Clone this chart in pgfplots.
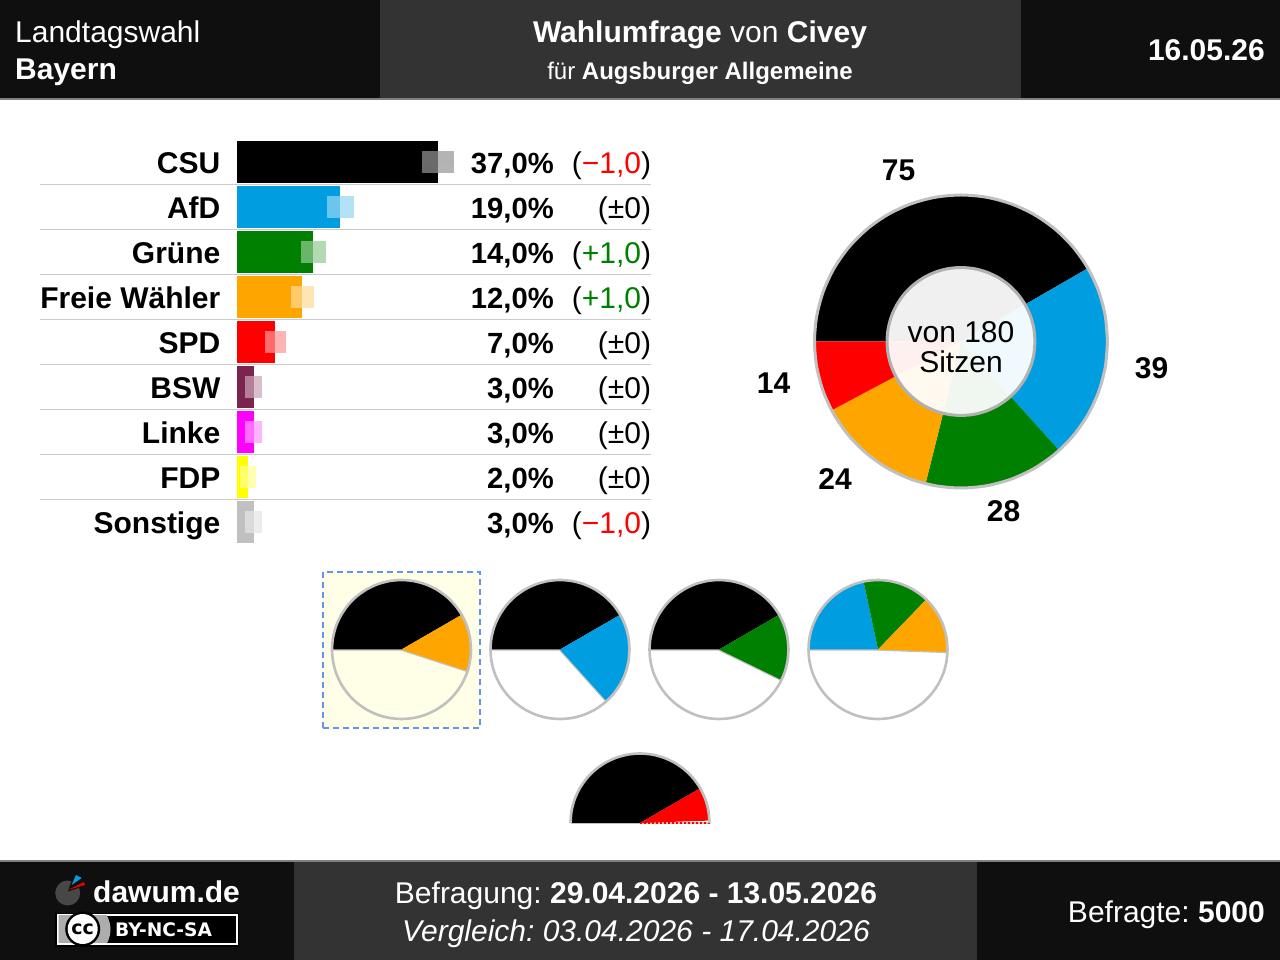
\documentclass[border=0pt]{standalone}
\usepackage{fontspec}
\usepackage{pgfplots}
\usepackage{pgfplotstable}
\usepgfplotslibrary{polar}
\pgfplotsset{compat=1.18}
\setmainfont{Liberation Sans}
\newfontfamily\badgefont{DejaVu Sans}
\frenchspacing

\definecolor{csu}{HTML}{000000}
\definecolor{afd}{HTML}{009EE0}
\definecolor{gruene}{HTML}{008000}
\definecolor{fw}{HTML}{FFA500}
\definecolor{spd}{HTML}{FF0000}
\definecolor{bsw}{HTML}{7B2450}
\definecolor{linke}{HTML}{FF00FF}
\definecolor{fdp}{HTML}{FFFF00}
\definecolor{sonst}{HTML}{C0C0C0}
\definecolor{darkbar}{HTML}{0F0F0F}
\definecolor{midbar}{HTML}{333333}
\definecolor{rulegrey}{HTML}{808080}
\definecolor{sepgrey}{HTML}{CCCCCC}
\definecolor{piegrey}{HTML}{C0C0C0}
\definecolor{plus}{HTML}{008000}
\definecolor{cornflower}{HTML}{6495ED}

\newcommand{\fs}[1]{\fontsize{#1pt}{#1pt}\selectfont}

% unit circle shared by all the pies, r outer edge, s hole of the donut
\pgfplotstableread{
a r s
0 1 0.505
10 1 0.505
20 1 0.505
30 1 0.505
40 1 0.505
50 1 0.505
60 1 0.505
70 1 0.505
80 1 0.505
90 1 0.505
100 1 0.505
110 1 0.505
120 1 0.505
130 1 0.505
140 1 0.505
150 1 0.505
160 1 0.505
170 1 0.505
180 1 0.505
190 1 0.505
200 1 0.505
210 1 0.505
220 1 0.505
230 1 0.505
240 1 0.505
250 1 0.505
260 1 0.505
270 1 0.505
280 1 0.505
290 1 0.505
300 1 0.505
310 1 0.505
320 1 0.505
330 1 0.505
340 1 0.505
350 1 0.505
360 1 0.505
}\ring
\pgfplotstableread{
a r
180 1
170 1
160 1
150 1
140 1
130 1
120 1
110 1
100 1
90 1
80 1
70 1
60 1
50 1
40 1
30 1
20 1
10 1
0 1
}\halfring

\pgfplotsset{
  party/.style={fill=#1, draw=none,
    error bars/.cd, x dir=both, x explicit, error mark=none,
    error bar style={line width=21.5pt, color=#1!41!white, opacity=.71}},
  pie/.style={hide axis, scale only axis, width=#1, height=#1,
    xmin=0, xmax=360, ymin=0, ymax=1, clip=false, anchor=origin},
  wedge/.style={fill=#1, draw=none},
  outline/.style={draw=piegrey, line width=2.6pt, fill=none, smooth},
  cut/.style={draw=piegrey, line width=2.4pt, fill=none},
}

\begin{document}
\begin{tikzpicture}[x=1pt, y=1pt]
\useasboundingbox (0,0) rectangle (1280,960);
\fill[white] (0,0) rectangle (1280,960);

% header
\fill[darkbar] (0,862) rectangle (1280,960);
\fill[midbar] (380,862) rectangle (1021,960);
\fill[rulegrey] (0,860) rectangle (1280,862);
\node[white, anchor=base west, inner sep=0] at (15,917) {\fs{30}Landtagswahl};
\node[white, anchor=base west, inner sep=0] at (15,880) {\fs{30}\bfseries Bayern};
\node[white, anchor=base, inner sep=0] at (700,917) {\fs{30}\textbf{Wahlumfrage} von \textbf{Civey}};
\node[white, anchor=base, inner sep=0] at (700,880) {\fs{24}für \textbf{Augsburger Allgemeine}};
\node[white, anchor=base east, inner sep=0] at (1265,899.5) {\fs{30}\bfseries 16.05.26};

% footer
\fill[darkbar] (0,0) rectangle (1280,98);
\fill[midbar] (294,0) rectangle (977,98);
\fill[rulegrey] (0,98) rectangle (1280,100);
\node[white, anchor=base west, inner sep=0] at (93,57) {\fs{30}\bfseries dawum.de};
\node[white, anchor=base, inner sep=0] at (636,56) {\fs{30}Befragung: \textbf{29.04.2026 - 13.05.2026}};
\node[white, anchor=base, inner sep=0] at (636,18) {\fs{30}\itshape Vergleich: 03.04.2026 - 17.04.2026};
\node[white, anchor=base east, inner sep=0] at (1265,37) {\fs{30}Befragte: \textbf{5000}};

% logo
\fill[black!72!white] (67.7,67) circle (12.5);
\fill[darkbar] (68,68.5) -- (75,90) -- (90,76) -- cycle;
\fill[afd] (71.7,75) -- (76,85) -- (81.7,82) -- cycle;
\fill[red!90!black] (68,70) -- (84,78) -- (85,75) -- cycle;

% cc badge
\fill[black] (55,13) rectangle (239,47);
\draw[white, line width=2pt] (57.5,16) rectangle (236.5,45);
\begin{scope}
\clip (58.5,17) rectangle (235.5,44);
\fill[black!32!white] (58.5,17) rectangle (105,44);
\fill[black!32!white] (82,30.5) circle (28.5);
\end{scope}
\fill[black] (82.7,31) circle (17.5);
\fill[white] (82.7,31) circle (15);
\node[black, inner sep=0] at (82.7,31) {\fs{19}\badgefont\bfseries cc};
\node[white, anchor=base west, inner sep=0] at (115,23.3) {\fs{18.6}\badgefont\bfseries BY-NC-SA};

% bars
\begin{axis}[
  at={(237.3pt,415.5pt)}, anchor=south west,
  scale only axis, width=414pt, height=405pt,
  xbar, bar width=42pt, bar shift=0pt,
  xmin=0, xmax=76.24, ymin=-0.5, ymax=8.5, y dir=reverse,
  axis line style={draw=none}, xtick=\empty,
  ytick={0,1,2,3,4,5,6,7,8},
  yticklabels={CSU,AfD,Grüne,Freie Wähler,SPD,BSW,Linke,FDP,Sonstige},
  ytick style={draw=none},
  y tick label style={anchor=base east, inner sep=0, xshift=-12.5pt, yshift=-11.5pt, font=\fs{30}\bfseries},
  clip=false,
]
\addplot[party=csu] coordinates {(37,0) +- (2.95,0)};
\addplot[party=afd] coordinates {(19,1) +- (2.43,0)};
\addplot[party=gruene] coordinates {(14,2) +- (2.25,0)};
\addplot[party=fw] coordinates {(12,3) +- (2.1,0)};
\addplot[party=spd] coordinates {(7,4) +- (1.88,0)};
\addplot[party=bsw] coordinates {(3,5) +- (1.55,0)};
\addplot[party=linke] coordinates {(3,6) +- (1.55,0)};
\addplot[party=fdp] coordinates {(2,7) +- (1.47,0)};
\addplot[party=sonst] coordinates {(3,8) +- (1.55,0)};

\draw[sepgrey, line width=1pt] (axis cs:-36.33,0.5) -- (axis cs:76.24,0.5);
\draw[sepgrey, line width=1pt] (axis cs:-36.33,1.5) -- (axis cs:76.24,1.5);
\draw[sepgrey, line width=1pt] (axis cs:-36.33,2.5) -- (axis cs:76.24,2.5);
\draw[sepgrey, line width=1pt] (axis cs:-36.33,3.5) -- (axis cs:76.24,3.5);
\draw[sepgrey, line width=1pt] (axis cs:-36.33,4.5) -- (axis cs:76.24,4.5);
\draw[sepgrey, line width=1pt] (axis cs:-36.33,5.5) -- (axis cs:76.24,5.5);
\draw[sepgrey, line width=1pt] (axis cs:-36.33,6.5) -- (axis cs:76.24,6.5);
\draw[sepgrey, line width=1pt] (axis cs:-36.33,7.5) -- (axis cs:76.24,7.5);

\tikzset{val/.style={anchor=base east, inner sep=0, yshift=-11.5pt}}
\node[val] at (axis cs:58.32,0) {\fs{29.2}\bfseries 37,0\%};
\node[val] at (axis cs:58.32,1) {\fs{29.2}\bfseries 19,0\%};
\node[val] at (axis cs:58.32,2) {\fs{29.2}\bfseries 14,0\%};
\node[val] at (axis cs:58.32,3) {\fs{29.2}\bfseries 12,0\%};
\node[val] at (axis cs:58.32,4) {\fs{29.2}\bfseries 7,0\%};
\node[val] at (axis cs:58.32,5) {\fs{29.2}\bfseries 3,0\%};
\node[val] at (axis cs:58.32,6) {\fs{29.2}\bfseries 3,0\%};
\node[val] at (axis cs:58.32,7) {\fs{29.2}\bfseries 2,0\%};
\node[val] at (axis cs:58.32,8) {\fs{29.2}\bfseries 3,0\%};
\node[val] at (axis cs:76.24,0) {\fs{30}(\textcolor{red}{−1,0})};
\node[val] at (axis cs:76.24,1) {\fs{30}(±0)};
\node[val] at (axis cs:76.24,2) {\fs{30}(\textcolor{plus}{+1,0})};
\node[val] at (axis cs:76.24,3) {\fs{30}(\textcolor{plus}{+1,0})};
\node[val] at (axis cs:76.24,4) {\fs{30}(±0)};
\node[val] at (axis cs:76.24,5) {\fs{30}(±0)};
\node[val] at (axis cs:76.24,6) {\fs{30}(±0)};
\node[val] at (axis cs:76.24,7) {\fs{30}(±0)};
\node[val] at (axis cs:76.24,8) {\fs{30}(\textcolor{red}{−1,0})};
\end{axis}

% seats donut, 180 seats on the full circle, starting at the left
\begin{polaraxis}[pie=293pt, at={(961pt,618.5pt)}]
\addplot[wedge=csu] coordinates {(0,0)(180,1)(170,1)(160,1)(150,1)(140,1)(130,1)(120,1)(110,1)(100,1)(90,1)(80,1)(70,1)(60,1)(50,1)(40,1)(30,1)(0,0)};
\addplot[wedge=afd] coordinates {(0,0)(30,1)(20,1)(10,1)(0,1)(-10,1)(-20,1)(-30,1)(-40,1)(-48,1)(0,0)};
\addplot[wedge=gruene] coordinates {(0,0)(-48,1)(-60,1)(-70,1)(-80,1)(-90,1)(-104,1)(0,0)};
\addplot[wedge=fw] coordinates {(0,0)(-104,1)(-110,1)(-120,1)(-130,1)(-140,1)(-152,1)(0,0)};
\addplot[wedge=spd] coordinates {(0,0)(-152,1)(-160,1)(-170,1)(-180,1)(0,0)};
\addplot[outline, line width=3pt] table[x=a, y=r] {\ring};
\addplot[smooth, fill=white, fill opacity=.94, draw=none] table[x=a, y=s] {\ring};
\addplot[smooth, draw=piegrey!92!black, line width=3pt, fill=none] table[x=a, y=s] {\ring};
\end{polaraxis}
\node[anchor=base, inner sep=0] at (961,617) {\fs{30}von 180};
\node[anchor=base, inner sep=0] at (961,587.5) {\fs{30}Sitzen};
\node[anchor=base, inner sep=0] at (898.5,779) {\fs{30}\bfseries 75};
\node[anchor=base, inner sep=0] at (1151.5,581) {\fs{30}\bfseries 39};
\node[anchor=base, inner sep=0] at (1003.5,438) {\fs{30}\bfseries 28};
\node[anchor=base, inner sep=0] at (835,470) {\fs{30}\bfseries 24};
\node[anchor=base, inner sep=0] at (773.5,566) {\fs{30}\bfseries 14};

% coalition pies
\fill[yellow!10!white] (323,232) rectangle (480,388);
\draw[cornflower, line width=2pt, dash pattern=on 6pt off 4pt] (323,232) rectangle (480,388);

\begin{polaraxis}[pie=139pt, at={(401.5pt,310.5pt)}]
\addplot[cut] coordinates {(180,1)(0,0)(-18,1)};
\addplot[wedge=csu] coordinates {(0,0)(180,1)(170,1)(160,1)(150,1)(140,1)(130,1)(120,1)(110,1)(100,1)(90,1)(80,1)(70,1)(60,1)(50,1)(40,1)(30,1)(0,0)};
\addplot[wedge=fw] coordinates {(0,0)(30,1)(20,1)(10,1)(0,1)(-10,1)(-18,1)(0,0)};
\addplot[outline] table[x=a, y=r] {\ring};
\end{polaraxis}

\begin{polaraxis}[pie=139pt, at={(560pt,310.5pt)}]
\addplot[cut] coordinates {(180,1)(0,0)(-48,1)};
\addplot[wedge=csu] coordinates {(0,0)(180,1)(170,1)(160,1)(150,1)(140,1)(130,1)(120,1)(110,1)(100,1)(90,1)(80,1)(70,1)(60,1)(50,1)(40,1)(30,1)(0,0)};
\addplot[wedge=afd] coordinates {(0,0)(30,1)(20,1)(10,1)(0,1)(-10,1)(-20,1)(-30,1)(-40,1)(-48,1)(0,0)};
\addplot[outline] table[x=a, y=r] {\ring};
\end{polaraxis}

\begin{polaraxis}[pie=139pt, at={(719pt,310.5pt)}]
\addplot[cut] coordinates {(180,1)(0,0)(-26,1)};
\addplot[wedge=csu] coordinates {(0,0)(180,1)(170,1)(160,1)(150,1)(140,1)(130,1)(120,1)(110,1)(100,1)(90,1)(80,1)(70,1)(60,1)(50,1)(40,1)(30,1)(0,0)};
\addplot[wedge=gruene] coordinates {(0,0)(30,1)(20,1)(10,1)(0,1)(-10,1)(-20,1)(-26,1)(0,0)};
\addplot[outline] table[x=a, y=r] {\ring};
\end{polaraxis}

\begin{polaraxis}[pie=139pt, at={(878pt,310.5pt)}]
\addplot[cut] coordinates {(180,1)(0,0)(-2,1)};
\addplot[wedge=afd] coordinates {(0,0)(180,1)(170,1)(160,1)(150,1)(140,1)(130,1)(120,1)(110,1)(102,1)(0,0)};
\addplot[wedge=gruene] coordinates {(0,0)(102,1)(90,1)(80,1)(70,1)(60,1)(46,1)(0,0)};
\addplot[wedge=fw] coordinates {(0,0)(46,1)(40,1)(30,1)(20,1)(10,1)(0,1)(-2,1)(0,0)};
\addplot[outline] table[x=a, y=r] {\ring};
\end{polaraxis}

\begin{polaraxis}[pie=139pt, at={(640pt,137pt)}]
\addplot[cut] coordinates {(180,1)(0,0)(0,1)};
\addplot[wedge=csu] coordinates {(0,0)(180,1)(170,1)(160,1)(150,1)(140,1)(130,1)(120,1)(110,1)(100,1)(90,1)(80,1)(70,1)(60,1)(50,1)(40,1)(30,1)(0,0)};
\addplot[wedge=spd] coordinates {(0,0)(30,1)(20,1)(10,1)(2,1)(0,0)};
\addplot[draw=red, line width=2.4pt, dash pattern=on 2pt off 2pt] coordinates {(0,0)(0,1)};
\addplot[outline] table[x=a, y=r] {\halfring};
\end{polaraxis}
\end{tikzpicture}
\end{document}
